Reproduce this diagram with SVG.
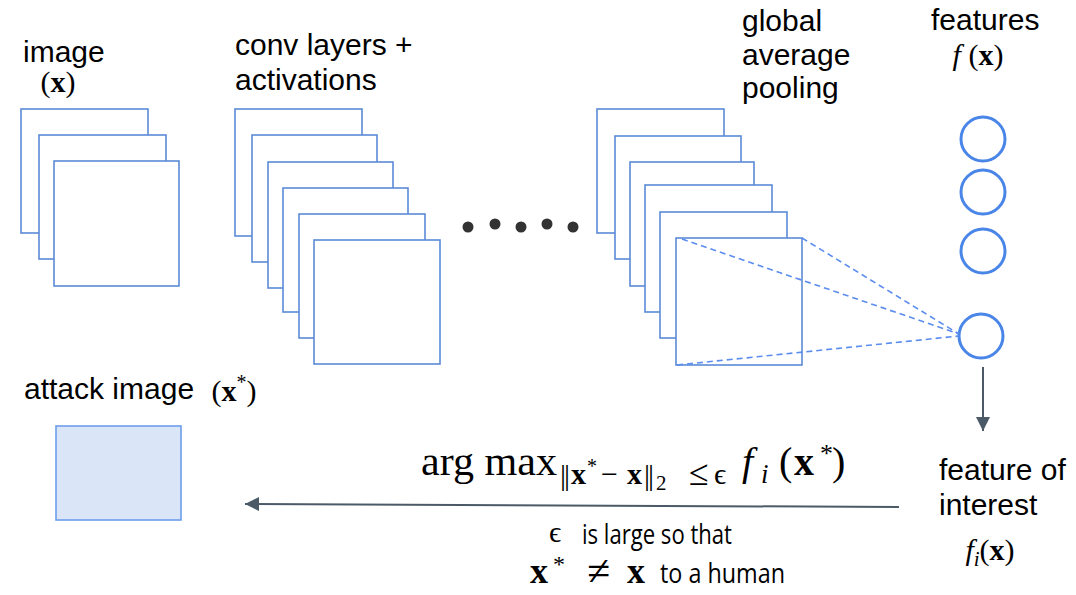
<svg xmlns="http://www.w3.org/2000/svg" width="1076" height="595" viewBox="0 0 1076 595">
<style>
.lbl{font-family:"Liberation Sans",Arial,sans-serif;font-size:30px;fill:#000}
.m{font-family:"Liberation Serif","DejaVu Serif",serif;fill:#000}
.b{font-weight:bold}
.it{font-style:italic}
.cal{font-family:"Open Sans","Noto Sans",sans-serif;font-size:28px;fill:#000}
.sq{fill:#fff;stroke:#5b8ad6;stroke-width:1.6}
.feat{fill:#fff;stroke:#4a86e8;stroke-width:3}
.dash{stroke:#5b8def;stroke-width:1.6;stroke-dasharray:6 4;fill:none}
.arr{stroke:#4b5a66;stroke-width:2;fill:none}
.dot{fill:#333}
</style>
<defs>
<marker id="ah" markerUnits="userSpaceOnUse" markerWidth="14" markerHeight="14" viewBox="0 0 13 13" refX="13" refY="6.5" orient="auto">
<path d="M0,0 L13,6.5 L0,13 z" fill="#4b5a66"/>
</marker>
</defs>
<rect width="1076" height="595" fill="#fff"/>

<g id="input-image">
<text class="lbl" x="23" y="62">image</text>
<text class="m" x="58" y="92" font-size="30" text-anchor="middle">(<tspan class="b">x</tspan>)</text>
<rect class="sq" x="21" y="109" width="127" height="124"/>
<rect class="sq" x="39" y="135" width="127" height="124"/>
<rect class="sq" x="54" y="161" width="125" height="125"/>
</g>

<g id="conv-layers">
<text class="lbl" x="235" y="55">conv layers +</text>
<text class="lbl" x="235" y="90">activations</text>
<rect class="sq" x="235" y="109" width="127" height="127"/>
<rect class="sq" x="252" y="135" width="125" height="127"/>
<rect class="sq" x="268" y="162" width="125" height="126"/>
<rect class="sq" x="283" y="188" width="125" height="124"/>
<rect class="sq" x="299" y="214" width="126" height="124"/>
<rect class="sq" x="314" y="240" width="126" height="124"/>
</g>

<g id="ellipsis">
<circle class="dot" cx="468" cy="227" r="5.5"/>
<circle class="dot" cx="495" cy="224" r="5.5"/>
<circle class="dot" cx="521" cy="227" r="5.5"/>
<circle class="dot" cx="547" cy="224" r="5.5"/>
<circle class="dot" cx="573" cy="227" r="5.5"/>
</g>

<g id="gap-layers">
<text class="lbl" x="742" y="31">global</text>
<text class="lbl" x="742" y="65">average</text>
<text class="lbl" x="742" y="98">pooling</text>
<rect class="sq" x="597" y="109" width="127" height="124"/>
<rect class="sq" x="615" y="136" width="126" height="123"/>
<rect class="sq" x="630" y="162" width="124" height="124"/>
<rect class="sq" x="645" y="185" width="127" height="127"/>
<rect class="sq" x="660" y="212" width="127" height="126"/>
<rect class="sq" x="676" y="238" width="126" height="127"/>
</g>

<g id="features">
<text class="lbl" x="931" y="30">features</text>
<text class="m" x="978" y="65" font-size="30" text-anchor="middle"><tspan class="it">f</tspan> (<tspan class="b">x</tspan>)</text>
<circle class="feat" cx="983" cy="139" r="22"/>
<circle class="feat" cx="983" cy="192" r="22"/>
<circle class="feat" cx="983" cy="251" r="22"/>
<circle class="feat" cx="981" cy="336" r="22"/>
</g>

<g id="feature-of-interest">
<text class="lbl" x="939" y="480">feature of</text>
<text class="lbl" x="939" y="515">interest</text>
<text class="m" x="990" y="560" font-size="30" text-anchor="middle"><tspan class="it">f</tspan><tspan class="it" font-size="21" dy="6">i</tspan><tspan dy="-6">(</tspan><tspan class="b">x</tspan>)</text>
</g>

<g id="attack-image">
<text class="lbl" x="24" y="399">attack image</text>
<text class="m" x="234" y="401" font-size="30" text-anchor="middle">(<tspan class="b">x</tspan><tspan font-size="20" dy="-12">*</tspan><tspan dy="12">)</tspan></text>
<rect x="56" y="426" width="125" height="94" fill="#dae6f8" stroke="#6d9eeb" stroke-width="1.6"/>
</g>

<g id="objective">
<text class="m" x="421" y="475" font-size="39" textLength="136" lengthAdjust="spacingAndGlyphs">arg max</text>
<text class="m" x="560" y="485" font-size="30">|</text>
<text class="m" x="564" y="485" font-size="30">|</text>
<text class="m b" x="571" y="484" font-size="30">x</text>
<text class="m" x="587" y="473" font-size="20">*</text>
<text class="m" x="601" y="484" font-size="30">−</text>
<text class="m b" x="627" y="484" font-size="30">x</text>
<text class="m" x="644" y="485" font-size="30">|</text>
<text class="m" x="648" y="485" font-size="30">|</text>
<text class="m" x="656" y="490" font-size="21">2</text>
<text class="m" x="689" y="485" font-size="36">≤</text>
<text class="m" x="714" y="484" font-size="30">ϵ</text>
<text class="m it" x="742" y="475" font-size="40">f</text>
<text class="m it" x="761" y="483" font-size="27">i</text>
<text class="m" x="779" y="475" font-size="40">(</text>
<text class="m b" x="794" y="475" font-size="40">x</text>
<text class="m" x="820" y="462" font-size="26">*</text>
<text class="m" x="832" y="475" font-size="40">)</text>
</g>

<g id="constraint-note">
<text class="m" x="549" y="542" font-size="30">ϵ</text>
<text class="cal" x="582" y="544" textLength="150" lengthAdjust="spacingAndGlyphs">is large so that</text>
<text class="m b" x="530" y="583" font-size="36">x</text>
<text class="m" x="553" y="572" font-size="24">*</text>
<text class="m" x="587" y="585" font-size="42">≠</text>
<text class="m b" x="627" y="583" font-size="36">x</text>
<text class="cal" x="660" y="583" textLength="125" lengthAdjust="spacingAndGlyphs">to a human</text>
</g>

<g id="connectors">
<line class="dash" x1="682" y1="239" x2="959" y2="334"/>
<line class="dash" x1="802" y1="238" x2="959" y2="334"/>
<line class="dash" x1="677" y1="365" x2="959" y2="336"/>
<line class="arr" x1="983" y1="367" x2="983" y2="431" marker-end="url(#ah)"/>
<line class="arr" x1="899" y1="507" x2="245" y2="504" marker-end="url(#ah)"/>
</g>
</svg>
